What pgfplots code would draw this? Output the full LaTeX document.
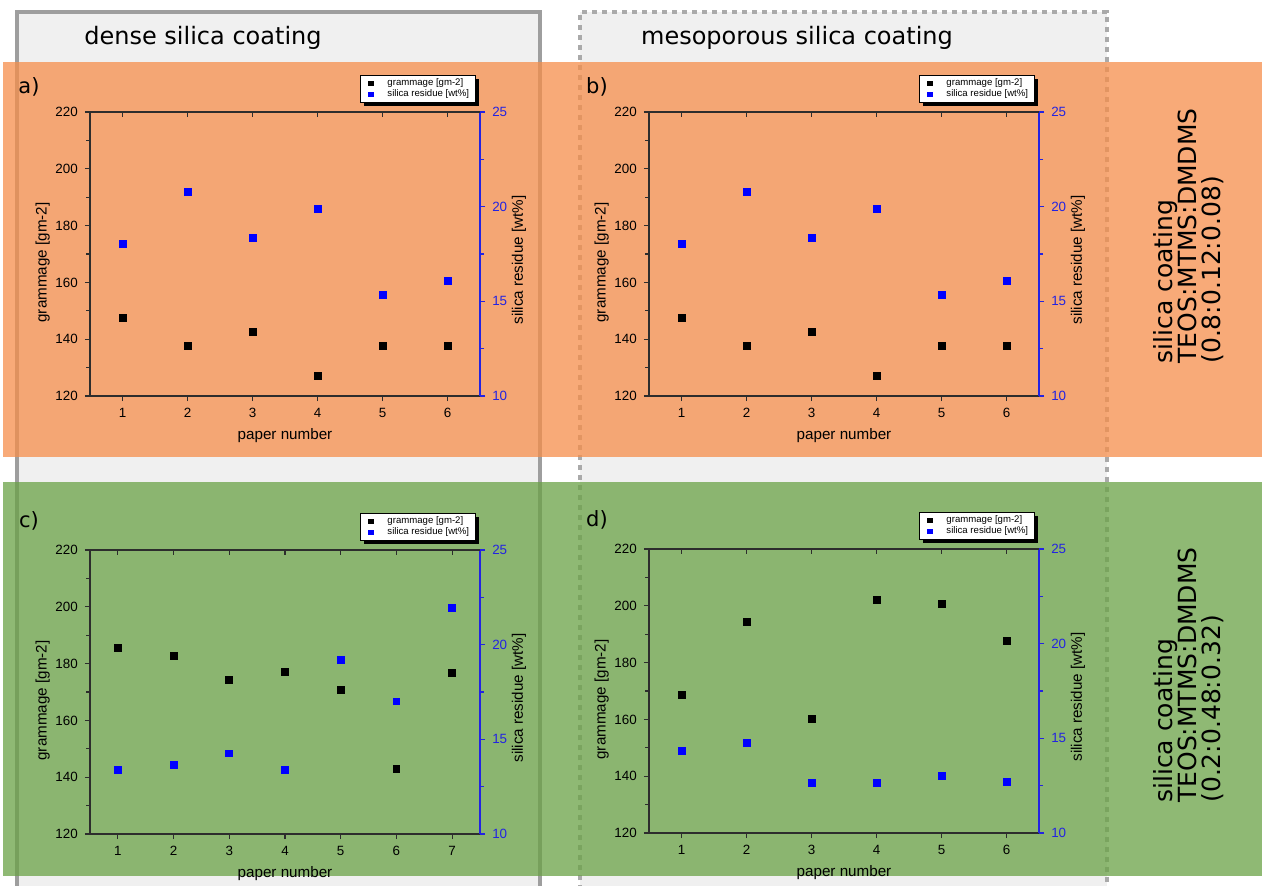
\documentclass[border=0pt]{standalone}
\usepackage{pgfplots}
\pgfplotsset{compat=1.18}
\usepackage{fontspec}
\setmainfont{Liberation Sans}
\newfontfamily\headfont{DejaVu Sans}
\usetikzlibrary{shadows}

\definecolor{bandorange}{RGB}{246,142,75}
\definecolor{bandgreen}{RGB}{106,162,70}
\definecolor{boxgrey}{RGB}{158,158,158}
\definecolor{dotgrey}{RGB}{170,170,170}
\definecolor{headgrey}{RGB}{240,240,240}
\definecolor{axblue}{RGB}{35,35,225}
\definecolor{axdark}{RGB}{45,45,45}

\pgfplotsset{
  panel/.style={
    scale only axis, width=195pt, height=142pt, anchor=south west,
    xmin=0.5, xtick={1,...,7},
    major tick length=2.6pt, minor tick length=2pt,
    tick label style={font=\fontsize{6.7}{7}\selectfont},
    label style={font=\fontsize{7.6}{9}\selectfont},
    /pgf/number format/assume math mode=true,
    clip=false,
  },
  leftax/.style={panel,
    axis x line*=bottom, axis y line*=left, tick align=outside,
    axis line style={-, axdark, line width=0.6pt},
    tick style={axdark, line width=0.6pt},
    ymin=120, ymax=220, ytick={120,140,...,220}, minor y tick num=1,
    xlabel={paper number}, ylabel={grammage [gm-2]},
    xlabel style={at={(axis description cs:0.5,-0.141)}, anchor=center},
    ylabel style={at={(axis description cs:-0.121,0.47)}, anchor=center},
  },
  rightax/.style={panel,
    hide x axis, axis y line*=right, tick align=outside,
    axis line style={-, axblue, line width=0.6pt},
    tick style={axblue, line width=0.6pt},
    yticklabel style={axblue},
    ymin=10, ymax=25, ytick={10,15,20,25}, minor y tick num=1,
    ylabel={silica residue [wt\%]},
    ylabel style={at={(axis description cs:1.1,0.479)}, anchor=center, black},
    legend cell align=left,
    legend style={at={(0.99,1.032)}, anchor=south east, draw=black,
      line width=0.4pt, fill=white, font=\fontsize{4.8}{5.5}\selectfont,
      inner xsep=2.5pt, inner ysep=0.8pt, row sep=-1pt,
      nodes={inner sep=0.8pt},
      drop shadow={shadow xshift=1.8pt, shadow yshift=-1.8pt, fill=black, opacity=1}},
  },
  topax/.style={panel, hide y axis, axis x line*=top, tick align=inside,
    axis line style={-, axdark, line width=0.6pt},
    tick style={axdark, line width=0.6pt}, xticklabels={}, ymin=0, ymax=1},
  blackmk/.style={only marks, mark=square*, mark size=1.7pt, black,
    legend image code/.code={\path[draw=none] (0pt,0pt) (10.4pt,0pt);
      \draw[##1, only marks, mark size=1.1pt] plot coordinates {(3pt,0pt)};}},
  bluemk/.style={only marks, mark=square*, mark size=1.7pt, blue,
    legend image code/.code={\path[draw=none] (0pt,0pt) (10.4pt,0pt);
      \draw[##1, only marks, mark size=1.1pt] plot coordinates {(3pt,0pt)};}},
}

% #1 anchor, #2 xmax, #3 grammage, #4 silica residue
\newcommand\panel[4]{%
  \begin{axis}[leftax, at={(#1)}, xmax=#2]
    \addplot[blackmk] coordinates {#3};
  \end{axis}
  \begin{axis}[rightax, at={(#1)}, xmax=#2]
    \addlegendimage{blackmk}
    \addlegendentry{grammage [gm-2]}
    \addplot[bluemk] coordinates {#4};
    \addlegendentry{silica residue [wt\%]}
  \end{axis}
  \begin{axis}[topax, at={(#1)}, xmax=#2]
  \end{axis}
}

\begin{document}
\begin{tikzpicture}
\path[use as bounding box] (0pt,0pt) rectangle (631.5pt,-443pt);
\begin{scope}[x=0.5pt,y=-0.5pt]
  \fill[white] (0,0) rectangle (1263,886);
  \fill[headgrey] (17,12) rectangle (540,886);
  \fill[headgrey] (580,12) rectangle (1107,886);
  \draw[boxgrey, line width=2.3pt] (17,890) -- (17,12) -- (540,12) -- (540,890);
  \draw[dotgrey, line width=2pt, dash pattern=on 2.6pt off 2.4pt]
    (580,890) -- (580,12) -- (1107,12) -- (1107,890);
  \fill[bandorange, opacity=.75] (3,62) rectangle (1262,457);
  \fill[bandgreen, opacity=.75] (3,482) rectangle (1262,876);
  \coordinate (A) at (90,396);
  \coordinate (B) at (649,396);
  \coordinate (C) at (90,834);
  \coordinate (D) at (649,833);
\end{scope}

\panel{A}{6.5}{(1,147.4)(2,137.7)(3,142.7)(4,127.2)(5,137.6)(6,137.6)}
  {(1,18.04)(2,20.8)(3,18.37)(4,19.87)(5,15.33)(6,16.07)}
\panel{B}{6.5}{(1,147.4)(2,137.7)(3,142.7)(4,127.2)(5,137.6)(6,137.6)}
  {(1,18.04)(2,20.8)(3,18.37)(4,19.87)(5,15.33)(6,16.07)}
\panel{C}{7.5}{(1,185.4)(2,182.7)(3,174.4)(4,177.0)(5,170.6)(6,142.9)(7,176.7)}
  {(1,13.39)(2,13.65)(3,14.26)(4,13.39)(5,19.19)(6,17.0)(7,21.93)}
\panel{D}{6.5}{(1,168.7)(2,194.4)(3,160.2)(4,202.0)(5,200.7)(6,187.6)}
  {(1,14.35)(2,14.78)(3,12.65)(4,12.65)(5,13.03)(6,12.72)}

\begin{scope}[x=0.5pt,y=-0.5pt]
  \node[font=\headfont\fontsize{12}{14}\selectfont] at (203,38) {dense silica coating};
  \node[font=\headfont\fontsize{12}{14}\selectfont] at (797,38) {mesoporous silica coating};
  \node[font=\headfont\fontsize{10.5}{12}\selectfont] at (29,87) {a)};
  \node[font=\headfont\fontsize{10.5}{12}\selectfont] at (597,87) {b)};
  \node[font=\headfont\fontsize{10.5}{12}\selectfont] at (29,521) {c)};
  \node[font=\headfont\fontsize{10.5}{12}\selectfont] at (597,520) {d)};
  \node[rotate=90, align=left, inner sep=0pt, font=\headfont\fontsize{12.5}{12}\selectfont]
    at (1189,236) {silica coating\\TEOS:MTMS:DMDMS\\(0.8:0.12:0.08)};
  \node[rotate=90, align=left, inner sep=0pt, font=\headfont\fontsize{12.5}{12}\selectfont]
    at (1189,675) {silica coating\\TEOS:MTMS:DMDMS\\(0.2:0.48:0.32)};
\end{scope}
\end{tikzpicture}
\end{document}
